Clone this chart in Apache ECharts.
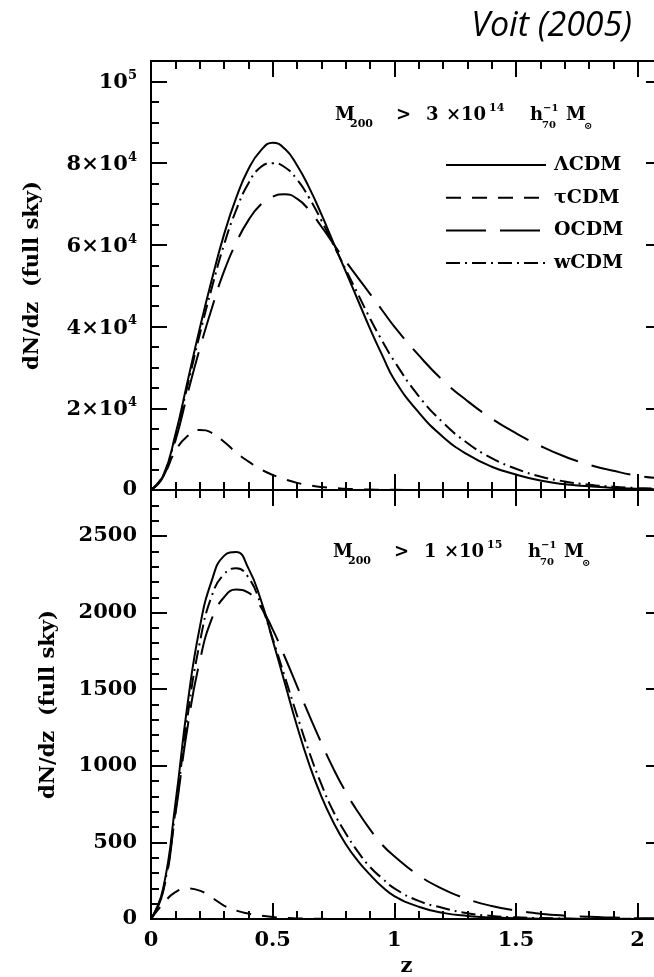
<!DOCTYPE html>
<html><head><meta charset="utf-8">
<script src="https://cdn.jsdelivr.net/npm/echarts@6/dist/echarts.min.js"></script>
<style>html,body{margin:0;padding:0;background:#fff}#c{width:654px;height:977px}</style>
</head><body><div id="c"></div><script>
// ---- data ----
const zValues = [0,0.05,0.1,0.15,0.2,0.25,0.3,0.35,0.4,0.45,0.5,0.55,0.6,0.65,0.7,0.75,0.8,0.85,0.9,0.95,1.0,1.1,1.2,1.3,1.4,1.5,1.6,1.7,1.8,1.9,2.0,2.1];
const seriesNames = ['ΛCDM','τCDM','OCDM','wCDM'];
// top panel: M200 > 3e14
const topLCDM = [0,3500,13500,26500,39500,51500,62500,71500,78500,83000,85000,83500,79500,74000,67500,60500,53500,46500,39500,33000,27000,19000,13000,8700,5700,3800,2300,1400,900,500,300,150];
const topTCDM = [0,3400,9500,13200,14700,14000,11800,9200,7000,5100,3700,2600,1750,1150,750,480,300,180,110,60,35,12,4,0,0,0,0,0,0,0,0,0];
const topOCDM = [0,3200,12000,23500,34500,44500,53500,60500,66000,69800,71800,72400,71300,68500,64500,60200,56000,52000,48000,44000,40000,33000,26800,21800,17500,13900,10800,8200,6200,4700,3500,2800];
const topWCDM = [0,3400,13000,25500,38000,49500,60000,68500,75000,79000,80000,79000,76000,71500,66000,60000,54000,48000,42000,36500,31500,23000,16500,11500,7800,5200,3300,2100,1300,800,500,300];
// bottom panel: M200 > 1e15
const botLCDM = [0,200,750,1400,1900,2210,2370,2395,2290,2090,1820,1540,1260,1010,800,630,490,380,290,210,150,80,40,20,10,5,2,1,0,0,0,0];
const botTCDM = [0,100,175,200,185,140,88,55,35,22,13,7,4,2,1,0,0,0,0,0,0,0,0,0,0,0,0,0,0,0,0,0];
const botOCDM = [0,180,680,1250,1680,1960,2100,2150,2130,2040,1890,1710,1520,1330,1150,980,830,700,585,485,410,285,195,130,85,55,35,22,14,9,5,4];
const botWCDM = [0,190,700,1320,1800,2110,2250,2290,2230,2060,1830,1580,1330,1090,880,700,560,440,340,265,200,118,72,38,20,11,6,3,2,1,1,0];
// tick labels
const xTickLabels = ['0','0.5','1','1.5','2'];
const topYTickLabels = ['0','{n|2×10}{s|4}','{n|4×10}{s|4}','{n|6×10}{s|4}','{n|8×10}{s|4}','{n|10}{s|5}'];
const botYTickLabels = ['0','500','1000','1500','2000','2500'];

// ---- chart ----
const FONT = 'DejaVu Serif';
const chart = echarts.init(document.getElementById('c'), null, {renderer:'canvas'});
const XMAX = 2.1, TOPMAX = 105000, BOTMAX = 2800;
const lineCol = '#000';
const labelRich = {
  n:{fontFamily:FONT, fontWeight:'bold', fontSize:21, color:'#000', lineHeight:24, verticalAlign:'bottom'},
  s:{fontFamily:FONT, fontWeight:'bold', fontSize:13, color:'#000', lineHeight:24, verticalAlign:'top'}
};

function fmt(labels, interval) {
  return v => { const i = Math.round(v/interval); return (labels && Math.abs(v - i*interval) < 1e-6 && labels[i] !== undefined) ? labels[i] : ''; };
}
function xAxisDef(grid, pos, interval, len, labels, extra) {
  return Object.assign({
    type:'value', gridIndex:grid, position:pos, min:0, max:XMAX, interval:interval,
    axisLine:{show:true, onZero:false, lineStyle:{color:lineCol, width:2}},
    axisTick:{show:true, inside:true, length:len, lineStyle:{color:lineCol, width:2}},
    axisLabel:{show:!!labels, showMaxLabel:false, margin:11, color:'#000', fontFamily:FONT, fontWeight:'bold', fontSize:21,
      formatter: fmt(labels, interval)},
    splitLine:{show:false}
  }, extra||{});
}
function yAxisDef(grid, pos, max, interval, len, labels, extra) {
  return Object.assign({
    type:'value', gridIndex:grid, position:pos, min:0, max:max, interval:interval,
    axisLine:{show:true, onZero:false, lineStyle:{color:lineCol, width:2}},
    axisTick:{show:true, inside:true, length:len, lineStyle:{color:lineCol, width:2}},
    axisLabel:{show:!!labels, showMaxLabel:false, margin:14, color:'#000', fontFamily:FONT, fontWeight:'bold', fontSize:21,
      rich:labelRich, formatter: fmt(labels, interval)},
    splitLine:{show:false}
  }, extra||{});
}
const nameStyle = {color:'#000', fontFamily:FONT, fontWeight:'bold', fontSize:21};

const xAxes = [
  xAxisDef(0,'bottom',0.5,16,null),
  xAxisDef(0,'bottom',0.1,8,null),
  xAxisDef(0,'top',0.5,16,null),
  xAxisDef(0,'top',0.1,8,null),
  xAxisDef(1,'bottom',0.5,16,xTickLabels,{name:'z', nameLocation:'middle', nameGap:37, nameTextStyle:nameStyle}),
  xAxisDef(1,'bottom',0.1,8,null),
  xAxisDef(1,'top',0.5,16,null),
  xAxisDef(1,'top',0.1,8,null)
];
const yAxes = [
  yAxisDef(0,'left',TOPMAX,20000,16,topYTickLabels,{name:'dN/dz  (full sky)', nameLocation:'middle', nameRotate:90, nameGap:108, nameTextStyle:nameStyle}),
  yAxisDef(0,'left',TOPMAX,5000,8,null),
  yAxisDef(0,'right',TOPMAX,20000,16,null),
  yAxisDef(0,'right',TOPMAX,5000,8,null),
  yAxisDef(1,'left',BOTMAX,500,16,botYTickLabels,{name:'dN/dz  (full sky)', nameLocation:'middle', nameRotate:90, nameGap:92, nameTextStyle:nameStyle}),
  yAxisDef(1,'left',BOTMAX,100,8,null),
  yAxisDef(1,'right',BOTMAX,500,16,null),
  yAxisDef(1,'right',BOTMAX,100,8,null)
];

const dashes = {'ΛCDM':'solid', 'τCDM':[15,11], 'OCDM':[40,14], 'wCDM':[14,5,2,5]};
function mk(name, vals, xi, yi) {
  return {
    type:'line', name:name, xAxisIndex:xi, yAxisIndex:yi,
    data: zValues.map((z,i)=>[z, vals[i]]),
    showSymbol:false, symbol:'none', smooth:0.5, clip:true,
    lineStyle:{color:'#000', width:2, type:dashes[name]}, itemStyle:{color:'#000'},
    emphasis:{disabled:true}, silent:true
  };
}
const series = [
  mk('ΛCDM', topLCDM, 0, 0), mk('τCDM', topTCDM, 0, 0), mk('OCDM', topOCDM, 0, 0), mk('wCDM', topWCDM, 0, 0),
  mk('ΛCDM', botLCDM, 4, 4), mk('τCDM', botTCDM, 4, 4), mk('OCDM', botOCDM, 4, 4), mk('wCDM', botWCDM, 4, 4)
];

function massText(dx, dy, coef, exp) {
  const t = (text, x, y, size) => ({type:'text', x:x+dx, y:y+dy, silent:true,
    style:{text:text, fill:'#000', font:'bold '+size+'px "'+FONT+'"', verticalAlign:'middle', align:'left'}});
  return [
    t('M',335,115,18), t('200',350,124,11), t('>',396,115,18), t(coef,426,115,18), t('×10',446,115,18),
    t(exp,489,108,11), t('h',530,115,18), t('−1',543,108,10), t('70',542,125,10), t('M',566,115,18), t('⊙',584,126,10)
  ];
}

chart.setOption({
  animation:false,
  backgroundColor:'#fff',
  title:{text:'Voit (2005)', right:17, top:4, textStyle:{fontFamily:'Open Sans', fontStyle:'italic', fontWeight:'normal', fontSize:34, color:'#000'}},
  grid:[
    {left:151, top:61, width:511, height:429, containLabel:false, outerBoundsMode:'none'},
    {left:151, top:490, width:511, height:429, containLabel:false, outerBoundsMode:'none'}
  ],
  xAxis:xAxes, yAxis:yAxes,
  legend:{orient:'vertical', left:440, top:150, itemWidth:100, itemHeight:14, itemGap:12.7, selectedMode:false,
    data:seriesNames,
    itemStyle:{color:'rgba(0,0,0,0)', borderWidth:0, opacity:0},
    textStyle:{fontFamily:FONT, fontWeight:'bold', fontSize:19, color:'#000', lineHeight:20, padding:[0,0,0,3]}},
  series:series,
  graphic:[].concat(massText(0,0,'3','14'), massText(-2,437,'1','15'))
});
</script></body></html>
